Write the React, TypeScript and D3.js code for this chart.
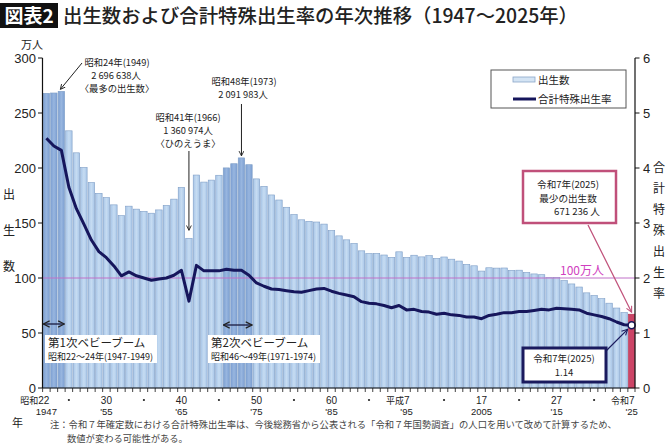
import React from "react";
import * as d3 from "d3";

const years = [
  1947, 1948, 1949, 1950, 1951, 1952, 1953, 1954, 1955, 1956, 1957, 1958, 1959, 1960,
  1961, 1962, 1963, 1964, 1965, 1966, 1967, 1968, 1969, 1970, 1971, 1972, 1973, 1974,
  1975, 1976, 1977, 1978, 1979, 1980, 1981, 1982, 1983, 1984, 1985, 1986, 1987, 1988,
  1989, 1990, 1991, 1992, 1993, 1994, 1995, 1996, 1997, 1998, 1999, 2000, 2001, 2002,
  2003, 2004, 2005, 2006, 2007, 2008, 2009, 2010, 2011, 2012, 2013, 2014, 2015, 2016,
  2017, 2018, 2019, 2020, 2021, 2022, 2023, 2024, 2025,
];

// 出生数（万人）
const births = [
  267.9, 268.2, 269.7, 233.8, 213.8, 200.5, 186.8, 177.0, 173.1, 166.5, 156.7, 165.3, 162.6, 160.6,
  158.9, 161.9, 166.0, 171.7, 182.4, 136.1, 193.6, 187.2, 189.0, 193.4, 200.1, 203.9, 209.2, 203.0,
  190.1, 183.3, 175.5, 170.9, 164.3, 157.7, 152.9, 151.5, 150.9, 149.0, 143.2, 138.3, 134.7, 131.4,
  124.7, 122.2, 122.3, 120.9, 118.8, 123.8, 118.7, 120.7, 119.2, 120.3, 117.8, 119.1, 117.1, 115.4,
  112.4, 111.1, 106.3, 109.3, 109.0, 109.1, 107.0, 107.1, 105.1, 103.7, 103.0, 100.4, 100.6, 97.7,
  94.6, 91.8, 86.5, 84.1, 81.2, 77.1, 72.7, 68.6, 67.1,
];

// 合計特殊出生率
const tfr = [
  4.54, 4.40, 4.32, 3.65, 3.26, 2.98, 2.69, 2.48, 2.37, 2.22, 2.04, 2.11, 2.04, 2.00,
  1.96, 1.98, 2.00, 2.05, 2.14, 1.58, 2.23, 2.13, 2.13, 2.13, 2.16, 2.14, 2.14, 2.05,
  1.91, 1.85, 1.80, 1.79, 1.77, 1.75, 1.74, 1.77, 1.80, 1.81, 1.76, 1.72, 1.69, 1.66,
  1.57, 1.54, 1.53, 1.50, 1.46, 1.50, 1.42, 1.43, 1.39, 1.38, 1.34, 1.36, 1.33, 1.32,
  1.29, 1.29, 1.26, 1.32, 1.34, 1.37, 1.37, 1.39, 1.39, 1.41, 1.43, 1.42, 1.45, 1.44,
  1.43, 1.42, 1.36, 1.33, 1.30, 1.26, 1.20, 1.15, 1.14,
];

const boomYears = [1947, 1948, 1949, 1971, 1972, 1973, 1974];
const latestYear = 2025;

const leftTicks = [0, 50, 100, 150, 200, 250, 300];
const rightTicks = [0, 1, 2, 3, 4, 5, 6];

const xTickYears = [1947, 1955, 1965, 1975, 1985, 1995, 2005, 2015, 2025];
const xTickEra = ["昭和", "", "", "", "", "平成", "", "", "令和"];
const xTickNum = ["22", "30", "40", "50", "60", "7", "17", "27", "7"];
const xTickWestern = ["1947", "'55", "'65", "'75", "'85", "'95", "2005", "'15", "'25"];
const dotYears = [1950, 1960, 1970, 1980, 1990, 2000, 2010, 2020];

const referenceLine = 100;

const JP = "'Noto Sans CJK JP', 'Noto Sans', sans-serif";
const NUM = "'Liberation Sans', Arial, sans-serif";

export default function App() {
  const W = 670;
  const H = 447;
  const x = d3.scaleBand<number>().domain(years).range([43, 635]).paddingInner(0.14).paddingOuter(0.02);
  const yL = d3.scaleLinear().domain([0, 300]).range([388, 58]);
  const yR = d3.scaleLinear().domain([0, 6]).range([388, 58]);
  const cx = (yr: number) => (x(yr) as number) + x.bandwidth() / 2;
  const step = x.step();

  const line = d3
    .line<number>()
    .x((_, i) => cx(years[i]))
    .y((d) => yR(d));

  const lastIdx = years.indexOf(latestYear);
  const lastX = cx(latestYear);
  const lastBirthY = yL(births[lastIdx]);
  const lastTfrY = yR(tfr[lastIdx]);

  const i1949 = years.indexOf(1949);
  const i1966 = years.indexOf(1966);
  const i1973 = years.indexOf(1973);

  const boom1 = [cx(1947) - 3, cx(1949) + 3];
  const boom2 = [cx(1971) - 3, cx(1974) + 3];

  return (
    <div style={{ position: "absolute", left: 0, top: 0, width: W, height: H, background: "#fff" }}>
      <svg width={W} height={H} viewBox={`0 0 ${W} ${H}`} style={{ display: "block" }}>
        <defs>
          <marker id="arrBlack" viewBox="0 0 10 10" refX="9" refY="5" markerWidth="6" markerHeight="6" orient="auto-start-reverse">
            <path d="M1,1 L9,5 L1,9" fill="none" stroke="#222" strokeWidth="1.5" />
          </marker>
          <marker id="arrNavy" viewBox="0 0 10 10" refX="9" refY="5" markerWidth="6" markerHeight="6" orient="auto-start-reverse">
            <path d="M1,1 L9,5 L1,9" fill="none" stroke="#1a1a5e" strokeWidth="1.5" />
          </marker>
          <marker id="arrPink" viewBox="0 0 10 10" refX="9" refY="5" markerWidth="6" markerHeight="6" orient="auto-start-reverse">
            <path d="M1,1 L9,5 L1,9" fill="none" stroke="#c0507a" strokeWidth="1.5" />
          </marker>
          <linearGradient id="barGrad" x1="0" x2="1" y1="0" y2="0">
            <stop offset="0" stopColor="#a9c6e8" />
            <stop offset="0.5" stopColor="#c6dcf2" />
            <stop offset="1" stopColor="#a9c6e8" />
          </linearGradient>
          <linearGradient id="boomGrad" x1="0" x2="1" y1="0" y2="0">
            <stop offset="0" stopColor="#7c9fd2" />
            <stop offset="0.5" stopColor="#98b6df" />
            <stop offset="1" stopColor="#7c9fd2" />
          </linearGradient>
        </defs>

        {/* Title */}
        <rect x={0} y={3} width={58} height={25} fill="#111" />
        <text x={29} y={23} textAnchor="middle" fill="#fff" fontFamily={JP} fontWeight={700} fontSize={19}>
          図表2
        </text>
        <text x={63} y={23} fill="#222" fontFamily={JP} fontWeight={500} fontSize={19.4}>
          出生数および合計特殊出生率の年次推移（1947～2025年）
        </text>

        {/* Bars */}
        {years.map((yr, i) => {
          const isLast = yr === latestYear;
          const isBoom = boomYears.includes(yr);
          return (
            <rect
              key={yr}
              x={x(yr)}
              y={yL(births[i])}
              width={x.bandwidth()}
              height={yL(0) - yL(births[i])}
              fill={isLast ? "#cc4466" : isBoom ? "url(#boomGrad)" : "url(#barGrad)"}
              stroke={isLast ? "#b03050" : "#7f9ec6"}
              strokeWidth={0.6}
            />
          );
        })}

        {/* 100万人 line */}
        <line x1={43} x2={635} y1={yL(referenceLine)} y2={yL(referenceLine)} stroke="#c070c8" strokeWidth={1} />
        <text x={560} y={yL(referenceLine) - 3} fill="#d040c0" fontFamily={JP} fontSize={12}>
          100万人
        </text>

        {/* TFR line */}
        <path d={line(tfr) || ""} fill="none" stroke="#16165c" strokeWidth={3} strokeLinejoin="round" />
        <circle cx={lastX} cy={lastTfrY} r={3.5} fill="#fff" stroke="#16165c" strokeWidth={1.5} />

        {/* Axes */}
        <line x1={42.5} x2={42.5} y1={58} y2={388} stroke="#111" strokeWidth={1.2} />
        <line x1={635} x2={635} y1={58} y2={388} stroke="#111" strokeWidth={1.2} />
        <line x1={42.5} x2={635} y1={388} y2={388} stroke="#111" strokeWidth={1.2} />
        {leftTicks.map((t) => (
          <g key={"l" + t}>
            <line x1={38} x2={42.5} y1={yL(t)} y2={yL(t)} stroke="#111" strokeWidth={1} />
            <text x={36} y={yL(t) + 4.5} textAnchor="end" fontFamily={NUM} fontSize={13} fill="#222">
              {t}
            </text>
          </g>
        ))}
        {rightTicks.map((t) => (
          <g key={"r" + t}>
            <line x1={635} x2={639.5} y1={yR(t)} y2={yR(t)} stroke="#111" strokeWidth={1} />
            <text x={643} y={yR(t) + 5} fontFamily={NUM} fontSize={13} fill="#222">
              {t}
            </text>
          </g>
        ))}
        {years.map((yr) => (
          <line key={"xt" + yr} x1={(x(yr) as number) - (step - x.bandwidth()) / 2} x2={(x(yr) as number) - (step - x.bandwidth()) / 2} y1={388} y2={392} stroke="#111" strokeWidth={0.8} />
        ))}
        <line x1={635} x2={635} y1={388} y2={392} stroke="#111" strokeWidth={0.8} />

        {/* X labels */}
        {xTickYears.map((yr, i) => {
          const c = cx(yr);
          return (
            <g key={"xl" + yr}>
              {xTickEra[i] ? (
                <text x={c + 3} y={404} textAnchor="end" fontFamily={JP} fontSize={9} fill="#222">
                  {xTickEra[i]}
                  <tspan fontFamily={NUM} fontSize={10}>{xTickNum[i]}</tspan>
                </text>
              ) : (
                <text x={c} y={404} textAnchor="middle" fontFamily={NUM} fontSize={10} fill="#222">
                  {xTickNum[i]}
                </text>
              )}
              <text x={c} y={414.5} textAnchor="middle" fontFamily={NUM} fontSize={9.5} fill="#222">
                {xTickWestern[i]}
              </text>
            </g>
          );
        })}
        {dotYears.map((yr) => (
          <circle key={"d" + yr} cx={cx(yr)} cy={400} r={1.1} fill="#222" />
        ))}
        <text x={12} y={427} fontFamily={JP} fontSize={11} fill="#222">年</text>

        {/* Axis titles */}
        <text x={32} y={49} textAnchor="middle" fontFamily={JP} fontSize={11} fill="#222">万人</text>
        {["出", "生", "数"].map((ch, i) => (
          <text key={"lt" + i} x={9} y={199 + i * 36} textAnchor="middle" fontFamily={JP} fontSize={12} fill="#222">
            {ch}
          </text>
        ))}
        {["合", "計", "特", "殊", "出", "生", "率"].map((ch, i) => (
          <text key={"rt" + i} x={659} y={172 + i * 21} textAnchor="middle" fontFamily={JP} fontSize={12} fill="#222">
            {ch}
          </text>
        ))}

        {/* Legend */}
        <rect x={491} y={70} width={135} height={38} fill="#fff" stroke="#555" strokeWidth={1} />
        <rect x={513} y={77} width={22} height={5} fill="#d4e4f4" stroke="#8aa6c8" strokeWidth={0.8} />
        <text x={538} y={84} fontFamily={JP} fontSize={10.5} fill="#222">出生数</text>
        <line x1={513} x2={536} y1={99} y2={99} stroke="#16165c" strokeWidth={3} />
        <text x={538} y={103} fontFamily={JP} fontSize={10.5} fill="#222">合計特殊出生率</text>

        {/* Annotation 1949 */}
        <g fontFamily={JP} fontSize={9.3} fill="#222" textAnchor="middle">
          <text x={117} y={66}>昭和24年(1949)</text>
          <text x={116} y={79}>2 696 638人</text>
          <text x={117} y={92}>〈最多の出生数〉</text>
        </g>
        <line x1={82} y1={63} x2={cx(1949) - 1} y2={yL(births[i1949]) - 2} stroke="#222" strokeWidth={1} markerEnd="url(#arrBlack)" />

        {/* Annotation 1966 */}
        <g fontFamily={JP} fontSize={9.3} fill="#222" textAnchor="middle">
          <text x={188} y={121}>昭和41年(1966)</text>
          <text x={188} y={134}>1 360 974人</text>
          <text x={188} y={147}>〈ひのえうま〉</text>
        </g>
        <line x1={cx(1966)} y1={151} x2={cx(1966)} y2={yL(births[i1966]) - 8} stroke="#222" strokeWidth={1} markerEnd="url(#arrBlack)" />

        {/* Annotation 1973 */}
        <g fontFamily={JP} fontSize={9.3} fill="#222" textAnchor="middle">
          <text x={244} y={85}>昭和48年(1973)</text>
          <text x={243} y={98}>2 091 983人</text>
        </g>
        <line x1={cx(1973)} y1={104} x2={cx(1973)} y2={yL(births[i1973]) - 2} stroke="#222" strokeWidth={1} markerEnd="url(#arrBlack)" />

        {/* Baby booms */}
        <line x1={boom1[0]} x2={boom1[1]} y1={324} y2={324} stroke="#1a1a3e" strokeWidth={1.3} markerStart="url(#arrBlack)" markerEnd="url(#arrBlack)" />
        <rect x={45} y={335} width={112} height={28} fill="#fff" />
        <text x={48} y={347} fontFamily={JP} fontSize={11.5} fill="#222">第1次ベビーブーム</text>
        <text x={48} y={360} fontFamily={JP} fontSize={9} fill="#222">昭和22～24年(1947-1949)</text>

        <line x1={boom2[0]} x2={boom2[1]} y1={325} y2={325} stroke="#1a1a3e" strokeWidth={1.3} markerStart="url(#arrBlack)" markerEnd="url(#arrBlack)" />
        <rect x={208} y={335} width={112} height={28} fill="#fff" />
        <text x={211} y={347} fontFamily={JP} fontSize={11.5} fill="#222">第2次ベビーブーム</text>
        <text x={211} y={360} fontFamily={JP} fontSize={9} fill="#222">昭和46～49年(1971-1974)</text>

        {/* Pink box: minimum births */}
        <rect x={523} y={171} width={93} height={52} fill="#fff" stroke="#c0507a" strokeWidth={2.5} />
        <g fontFamily={JP} fontSize={9.6} fill="#222" textAnchor="middle">
          <text x={568} y={188}>令和7年(2025)</text>
          <text x={568} y={201.5}>最少の出生数</text>
          <text x={577} y={215}>671 236 人</text>
        </g>
        <line x1={588} y1={225} x2={lastX} y2={lastBirthY - 2} stroke="#c0507a" strokeWidth={1.2} markerEnd="url(#arrPink)" />

        {/* Navy box: TFR 1.14 */}
        <rect x={523} y={348} width={83} height={34} fill="#fff" stroke="#1a1a5e" strokeWidth={3} />
        <g fontFamily={JP} fontSize={9.5} fill="#222" textAnchor="middle">
          <text x={564} y={362}>令和7年(2025)</text>
          <text x={564} y={376}>1.14</text>
        </g>
        <line x1={606} y1={351} x2={lastX - 4} y2={lastTfrY + 4} stroke="#1a1a5e" strokeWidth={1.2} markerEnd="url(#arrNavy)" />

        {/* Footnote */}
        <text x={50} y={428} fontFamily={JP} fontSize={9.3} fill="#444">
          注：令和７年確定数における合計特殊出生率は、今後総務省から公表される「令和７年国勢調査」の人口を用いて改めて計算するため、
        </text>
        <text x={67} y={442} fontFamily={JP} fontSize={9.3} fill="#444">
          数値が変わる可能性がある。
        </text>
      </svg>
    </div>
  );
}
